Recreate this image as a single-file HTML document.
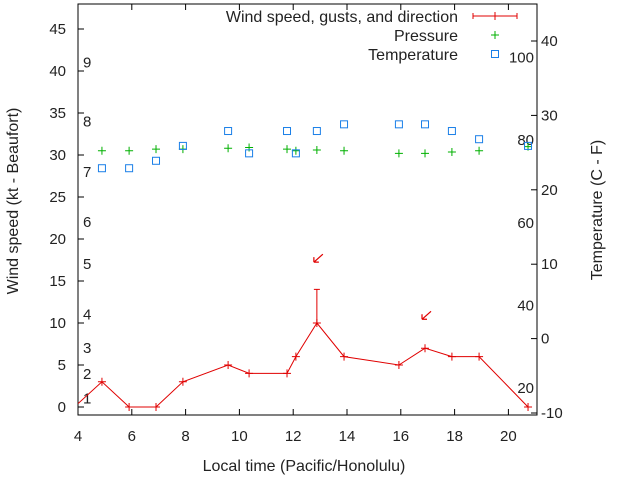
<!DOCTYPE html>
<html><head><meta charset="utf-8"><style>
html,body{margin:0;padding:0;background:#fff;}
svg{display:block;font-family:"Liberation Sans",sans-serif;}
</style></head><body>
<svg id="chart" width="640" height="480" viewBox="0 0 640 480" xmlns="http://www.w3.org/2000/svg"></svg>
<script>
const hours=[4.89,5.90,6.90,7.90,9.58,10.36,11.77,12.10,12.88,13.89,15.93,16.90,17.90,18.91,20.73];
const wind=[3,0,0,3,5,4,4,6,10,6,5,7,6,6,0];
const gustHours=[12.88];
const gustBase=[10];
const gustTop=[14];
const arrowHours=[12.88,16.90];
const arrowVals=[17.6,10.8];
const pressure=[30.5,30.5,30.7,30.7,30.8,30.9,30.7,30.5,30.6,30.5,30.2,30.2,30.35,30.5,31.0];
const temps=[22.9,22.9,23.9,25.9,27.9,24.9,27.9,24.9,27.9,28.8,28.8,28.8,27.9,26.8,25.9];
const xTicks=[4,6,8,10,12,14,16,18,20];
const yTicks=[0,5,10,15,20,25,30,35,40,45];
const y2Ticks=[-10,0,10,20,30,40];
const beaufort=[[1,1],[2,3.9],[3,7],[4,11],[5,17],[6,22],[7,28],[8,34],[9,41]];
const fahr=[20,40,60,80,100];

const L=78,R=537,T=4,B=415;
const xs=h=>L+(h-4)*26.9;
const ys=v=>407-v*8.4;
const ys2=t=>413-(t+10)*7.44;
const svg=document.getElementById('chart');
const NS='http://www.w3.org/2000/svg';
function mk(tag,attrs,parent){const e=document.createElementNS(NS,tag);for(const k in attrs)e.setAttribute(k,attrs[k]);(parent||svg).appendChild(e);return e;}
function txt(x,y,s,anchor,parent,fs){const t=mk('text',{x:x,y:y,'font-size':fs||15,fill:'#222','text-anchor':anchor||'start'},parent);t.textContent=s;return t;}

const defs=mk('defs',{});
const cp=mk('clipPath',{id:'clip'},defs);
mk('rect',{x:L,y:T,width:R-L,height:B-T},cp);

const box=mk('rect',{x:L,y:T,width:R-L,height:B-T,fill:'none',stroke:'#000','stroke-width':1});



const xg=mk('g',{});


xTicks.forEach(h=>{const x=xs(h);
 mk('line',{x1:x,y1:B,x2:x,y2:B-6,stroke:'#000'},xg);
 mk('line',{x1:x,y1:T,x2:x,y2:T+6,stroke:'#000'},xg);
 const t=txt(x,441,String(h),'middle',xg);
 
 });
const yg=mk('g',{});


yTicks.forEach(v=>{const y=ys(v);
 mk('line',{x1:L,y1:y,x2:L+6,y2:y,stroke:'#000'},yg);
 const t=txt(66,y+5,String(v),'end',yg);
 
 });
const y2g=mk('g',{});


y2Ticks.forEach(v=>{const y=ys2(v);
 mk('line',{x1:R,y1:y,x2:R-6,y2:y,stroke:'#000'},y2g);
 const t=txt(541,y+5,String(v),'start',y2g);
 
 });

beaufort.forEach(b=>{const t=txt(83,ys(b[1])+5,String(b[0]));
 
 });
fahr.forEach(f=>{const c=(f-32)*5/9;const t=txt(534,ys2(c)+5,String(f),'end');
 
 });

const xt=txt(304,471,'Local time (Pacific/Honolulu)','middle',null,16);


const yt=txt(0,0,'Wind speed (kt - Beaufort)','middle',null,16);
yt.setAttribute('transform','translate(18,201) rotate(-90)');


const y2t=txt(0,0,'Temperature (C - F)','middle',null,16);
y2t.setAttribute('transform','translate(602,210) rotate(-90)');



const pg=mk('g',{'clip-path':'url(#clip)'});
pressure.forEach((p,i)=>{const x=xs(hours[i]),y=ys(p);
 const g=mk('path',{d:`M${x-4},${y}H${x+4}M${x},${y-4}V${y+4}`,stroke:'#00b000','stroke-width':1},pg);
 
 });
temps.forEach((t,i)=>{const x=xs(hours[i]),y=ys2(t);
 const r=mk('rect',{x:x-3.5,y:y-3.5,width:7,height:7,fill:'none',stroke:'#1a7fe8','stroke-width':1},pg);
 
 });
let d='M'+L+','+ys(0.4);
hours.forEach((h,i)=>{d+=' L'+xs(h)+','+ys(wind[i]);});
const wl=mk('path',{d:d,fill:'none',stroke:'#e00000','stroke-width':1},pg);


hours.forEach((h,i)=>{const x=xs(h),y=ys(wind[i]);
 const m=mk('path',{d:`M${x-4},${y}H${x+4}M${x},${y-4}V${y+4}`,stroke:'#e00000'},pg);
 
 });
gustHours.forEach((h,i)=>{const x=xs(h);
 const g=mk('path',{d:`M${x},${ys(gustBase[i])}V${ys(gustTop[i])}M${x-3},${ys(gustTop[i])}H${x+3}`,stroke:'#e00000'},pg);
 
 });
arrowHours.forEach((h,i)=>{const x=xs(h),y=ys(arrowVals[i]);
 const a=mk('path',{d:`M${x+6},${y-5}L${x-3},${y+3}M${x-3},${y+3}l0,-5M${x-3},${y+3}l5,0`,stroke:'#e00000','stroke-width':1.2,fill:'none'},pg);
 
 });

const lg=mk('g',{});


const l1=txt(458,22,'Wind speed, gusts, and direction','end',lg,16);


mk('path',{d:'M473,16H517M473,13V19M517,13V19M495,12V20',stroke:'#e00000'},lg);
const l2=txt(458,41,'Pressure','end',lg,16);


mk('path',{d:'M491,35H499M495,31V39',stroke:'#00b000'},lg);
const l3=txt(458,60,'Temperature','end',lg,16);


mk('rect',{x:491.5,y:50.5,width:7,height:7,fill:'none',stroke:'#1a7fe8'},lg);
</script>
</body></html>
